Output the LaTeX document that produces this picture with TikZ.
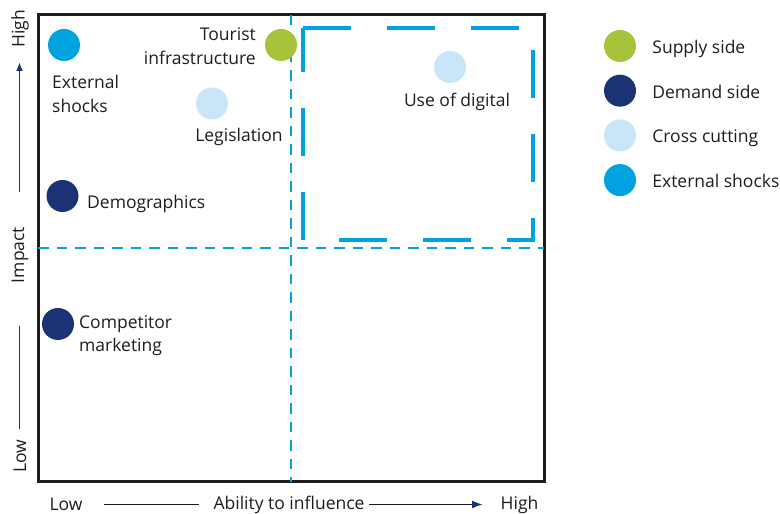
\documentclass[tikz,border=0pt]{standalone}
\usepackage{fontspec}
\setmainfont{Open Sans}
\usepackage{tikz}
\usetikzlibrary{positioning,arrows.meta,calc}
\definecolor{supplygreen}{HTML}{A5C33B}
\definecolor{demandnavy}{HTML}{1B3275}
\definecolor{crosslight}{HTML}{C8E6F8}
\definecolor{shockcyan}{HTML}{00A3E0}
\definecolor{inkgrey}{HTML}{1E1C1D}
\newcommand{\lbl}{\fontsize{17.5}{23.5}\selectfont}

\begin{document}
\begin{tikzpicture}[x=1pt,y=1pt, >={Latex[length=9pt,width=7pt]},
  dot/.style={circle,minimum size=32pt,inner sep=0pt},
  txt/.style={font=\lbl,text=inkgrey,inner sep=0pt},
  midline/.style={shockcyan,line width=2.2pt,dash pattern=on 10.5pt off 8pt}]
  \useasboundingbox (0,0) rectangle (780,514);
  % quadrant frame and split lines
  \draw[inkgrey,line width=3pt] (38,499) rectangle (544,32);
  \draw[midline] (291,499) -- (291,32);
  \draw[midline] (38,266) -- (544,266);
  \draw[shockcyan,line width=4pt,dash pattern=on 48pt off 36pt]
    (303,486) -- (533,486) -- (533,274) -- (303,274) -- cycle;
  % factors
  \node[dot,fill=shockcyan] (ext) at (64,469) {};
  \node[dot,fill=supplygreen] (tour) at (281,469) {};
  \node[dot,fill=crosslight] (legis) at (212,410.5) {};
  \node[dot,fill=demandnavy] (demo) at (62.5,318) {};
  \node[dot,fill=demandnavy] (comp) at (58,190) {};
  \node[dot,fill=crosslight] (digi) at (450,447) {};
  \node[txt,anchor=west,align=left] at (52,420) {External\\shocks};
  \node[txt,anchor=east,align=right] at (256,468) {Tourist\\infrastructure};
  \node[txt] at (239,377.5) {Legislation};
  \node[txt,anchor=west] at (87,310) {Demographics};
  \node[txt,anchor=west,align=left] at (79,178.5) {Competitor\\marketing};
  \node[txt] at (457,412) {Use of digital};
  % legend
  \foreach \c/\t [count=\i] in {supplygreen/Supply side,demandnavy/Demand side,crosslight/Cross cutting,shockcyan/External shocks} {
    \node[dot,fill=\c] (key\i) at (620,{468-(\i-1)*44.7}) {};
    \node[txt,anchor=west,text height=12.5pt,text depth=3.5pt] at ($(key\i.east)+(16,-3)$) {\t};
  }
  % axes
  \node[txt,rotate=90] (vhigh) at (20,485) {High};
  \node[txt,rotate=90] (vimp) at (20,259) {Impact};
  \node[txt,rotate=90] (vlow) at (20,58) {Low};
  \coordinate (vup0) at (19.5,322);
  \coordinate (vup1) at (19.5,452);
  \coordinate (vdn0) at (19.5,188);
  \coordinate (vdn1) at (19.5,85);
  \draw[->,demandnavy,line width=1.8pt] (vup0) -- (vup1);
  \draw[demandnavy,line width=1.8pt] (vdn0) -- (vdn1);
  \node[txt] (hlow) at (66,9.5) {Low};
  \node[txt] (hab) at (289,9.5) {Ability to influence};
  \node[txt] (hhigh) at (519.5,9.5) {High};
  \coordinate (hl0) at (104,9.5);
  \coordinate (hl1) at (199,9.5);
  \coordinate (hr0) at (369,9.5);
  \coordinate (hr1) at (483,9.5);
  \draw[inkgrey,line width=1.8pt] (hl0) -- (hl1);
  \draw[-{Latex[length=11pt,width=8pt,color=demandnavy]},inkgrey,line width=1.8pt] (hr0) -- (hr1);
\end{tikzpicture}
\end{document}
